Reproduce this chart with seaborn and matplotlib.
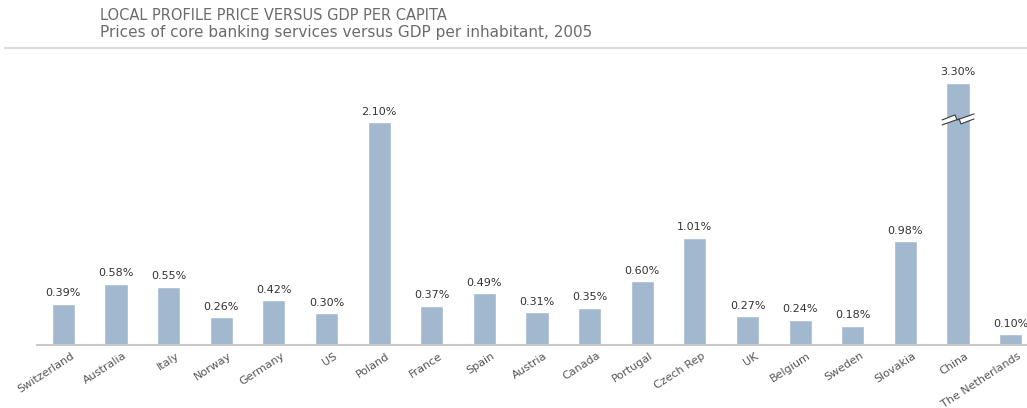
import numpy as np
import pandas as pd
import matplotlib
matplotlib.use("Agg")
import matplotlib.pyplot as plt
import matplotlib.transforms as mtransforms
from matplotlib.patches import Polygon
import seaborn as sns

countries = ["Switzerland", "Australia", "Italy", "Norway", "Germany", "US", "Poland",
             "France", "Spain", "Austria", "Canada", "Portugal", "Czech Rep", "UK",
             "Belgium", "Sweden", "Slovakia", "China", "The Netherlands"]
prices = [0.39, 0.58, 0.55, 0.26, 0.42, 0.30, 2.10, 0.37, 0.49, 0.31, 0.35, 0.60,
          1.01, 0.27, 0.24, 0.18, 0.98, 3.30, 0.10]

title = "LOCAL PROFILE PRICE VERSUS GDP PER CAPITA"
subtitle = "Prices of core banking services versus GDP per inhabitant, 2005"

# broken axis: linear up to the break, compressed above it
BREAK = 2.10
SQUEEZE = 0.31


def fwd(v):
    v = np.asarray(v, dtype=float)
    return np.where(v <= BREAK, v, BREAK + (v - BREAK) * SQUEEZE)


def inv(v):
    v = np.asarray(v, dtype=float)
    return np.where(v <= BREAK, v, BREAK + (v - BREAK) / SQUEEZE)


sns.set_style("white")
plt.rcParams["font.family"] = ["DejaVu Sans"]

BAR = "#a1b8ce"
TXT = "#333333"
GREY = "#6b6b6b"

df = pd.DataFrame({"country": countries, "price": prices})

W, H, DPI = 1027, 408, 100
fig = plt.figure(figsize=(W / DPI, H / DPI), dpi=DPI)
fig.patch.set_facecolor("white")

left_px, right_px = 37, 1037
bottom_px, top_px = 345, 60
ax = fig.add_axes([left_px / W, (H - bottom_px) / H,
                   (right_px - left_px) / W, (bottom_px - top_px) / H])

sns.barplot(data=df, x="country", y="price", color=BAR, width=0.44,
            saturation=1, ax=ax, zorder=2)

ax.set_yscale("function", functions=(fwd, inv))
px_per_unit = 106.0
ax.set_ylim(0, float(inv((bottom_px - top_px) / px_per_unit)))
ax.set_xlim(-0.5, len(countries) - 0.5)

for i, v in enumerate(prices):
    ax.annotate(f"{v:.2f}%", (i, v), xytext=(0, 4), textcoords="offset points",
                ha="center", va="bottom", fontsize=8, color=TXT)

# axis styling
for s in ["top", "right", "left"]:
    ax.spines[s].set_visible(False)
ax.spines["bottom"].set_color("#c8c8c8")
ax.spines["bottom"].set_linewidth(1.5)
ax.set_yticks([])
ax.set_xlabel("")
ax.set_ylabel("")
ax.set_xticks(range(len(countries)))
ax.set_xticklabels(countries, rotation=33, ha="right", rotation_mode="anchor",
                   fontsize=8, color="#555555")
ax.tick_params(axis="x", which="major", length=0, pad=4)
nudge = mtransforms.ScaledTranslation(7 / DPI, 0, fig.dpi_scale_trans)
for lab in ax.get_xticklabels():
    lab.set_transform(lab.get_transform() + nudge)
ax.set_xticks(np.arange(-0.5, len(countries), 1.0), minor=True)
ax.tick_params(axis="x", which="minor", length=4, width=0.8, color="#b0b0b0",
               direction="out")

# zigzag break mark across the China bar
china = countries.index("China")
brk_val = float(inv(2.114))
shift = mtransforms.ScaledTranslation(china, brk_val, ax.transData)
top_line = [(-16, 1), (-3, 6), (-1, 1), (16, 7)]
bot_line = [(16, 2), (3, -3), (1, 2), (-16, -4)]
poly = Polygon(top_line + bot_line, closed=True, facecolor="white",
               edgecolor="none", transform=mtransforms.IdentityTransform() + shift,
               zorder=3)
ax.add_patch(poly)
for line in (top_line, bot_line):
    xs, ys = zip(*line)
    ax.plot(xs, ys, color="#3a3a3a", lw=0.8, zorder=4,
            transform=mtransforms.IdentityTransform() + shift, clip_on=False)

# header
fig.text(100 / W, 1 - 15 / H, title, fontsize=10.5, color=GREY, ha="left",
         va="center")
fig.text(100 / W, 1 - 33 / H, subtitle, fontsize=11, color=GREY, ha="left",
         va="center")
fig.add_artist(plt.Line2D([5 / W, 1.0], [1 - 48 / H] * 2, color="#dcdcdc",
                          lw=1.6, transform=fig.transFigure))

fig.savefig("out.png", dpi=DPI)
